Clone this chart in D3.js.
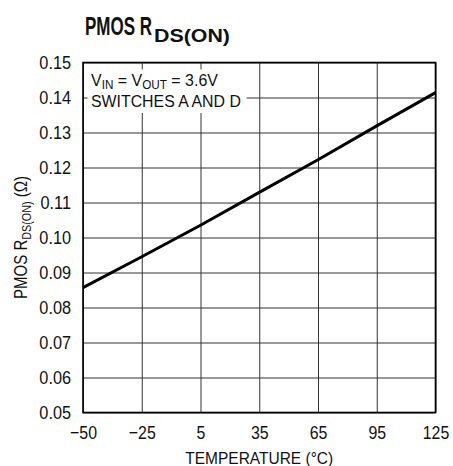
<!DOCTYPE html>
<html><head><meta charset="utf-8">
<script src="https://cdn.jsdelivr.net/npm/d3@7"></script>
<style>
body{margin:0;background:#fff}
text{font-family:"Liberation Sans",Arial,sans-serif;fill:#111}
</style>
</head><body><svg id="c" width="453" height="466"></svg>
<script>
const temps = [-55, -25, 5, 35, 65, 95, 125];
const rdson = [0.0857, 0.0945, 0.1035, 0.1129, 0.1222, 0.1319, 0.1414];
const xTickValues = [-55, -25, 5, 35, 65, 95, 125];
const xTickLabels = ["\u221250", "\u221225", "5", "35", "65", "95", "125"];
const yTickValues = [0.05, 0.06, 0.07, 0.08, 0.09, 0.10, 0.11, 0.12, 0.13, 0.14, 0.15];
const yTickLabels = ["0.05", "0.06", "0.07", "0.08", "0.09", "0.10", "0.11", "0.12", "0.13", "0.14", "0.15"];

const L = 83, R = 435.5, T = 62.5, B = 412.5;
const svg = d3.select("#c");
const x = d3.scaleLinear().domain([-55, 125]).range([L, R]);
const y = d3.scaleLinear().domain([0.05, 0.15]).range([B, T]);

// horizontal squeeze around the text anchor (condensed look)
function squeeze(sel, sx) {
  sel.each(function () {
    const t = d3.select(this);
    const tx = +t.attr("x") || 0, ty = +t.attr("y") || 0;
    const prev = t.attr("transform") || "";
    t.attr("transform", `${prev} translate(${tx},${ty}) scale(${sx},1)`).attr("x", 0).attr("y", 0);
  });
}
function fit(sel, target) {
  const w = sel.node().getComputedTextLength();
  squeeze(sel, target / w);
}

// grid via axes
const gx = svg.append("g").attr("transform", `translate(0,${B})`)
  .call(d3.axisBottom(x).tickValues(xTickValues).tickSize(-(B - T)).tickPadding(13)
    .tickFormat((d, i) => xTickLabels[i]));
gx.attr("font-family", null).attr("font-size", null);
gx.select(".domain").remove();
gx.selectAll("line").attr("stroke", "#333").attr("stroke-width", 1);
gx.selectAll("text").attr("font-size", 18.5).attr("dy", "0.71em").attr("fill", "#111");
squeeze(gx.selectAll("text"), 0.86);

const gy = svg.append("g").attr("transform", `translate(${L},0)`)
  .call(d3.axisLeft(y).tickValues(yTickValues).tickSize(-(R - L)).tickPadding(12)
    .tickFormat((d, i) => yTickLabels[i]));
gy.attr("font-family", null).attr("font-size", null);
gy.select(".domain").remove();
gy.selectAll("line").attr("stroke", "#333").attr("stroke-width", 1);
gy.selectAll("text").attr("font-size", 18.5).attr("fill", "#111");
squeeze(gy.selectAll("text"), 0.88);

// annotation background
svg.append("rect").attr("x", 87.5).attr("y", 69.5).attr("width", 159).attr("height", 43.5).attr("fill", "#fff");

// border
svg.append("rect").attr("x", L).attr("y", T).attr("width", R - L).attr("height", B - T)
  .attr("fill", "none").attr("stroke", "#000").attr("stroke-width", 1.6);

// data line
const line = d3.line().x((d, i) => x(temps[i])).y(d => y(d));
svg.append("path").datum(rdson).attr("d", line).attr("fill", "none")
  .attr("stroke", "#000").attr("stroke-width", 3);

// annotation text
const a1 = svg.append("text").attr("x", 91).attr("y", 85.7).attr("font-size", 17);
a1.append("tspan").text("V");
a1.append("tspan").attr("font-size", 12.5).attr("dy", 3.5).text("IN");
a1.append("tspan").attr("dy", -3.5).text(" = V");
a1.append("tspan").attr("font-size", 12.5).attr("dy", 3.5).text("OUT");
a1.append("tspan").attr("dy", -3.5).text(" = 3.6V");
fit(a1, 127);
const a2 = svg.append("text").attr("x", 91).attr("y", 106.7).attr("font-size", 17).text("SWITCHES A AND D");
fit(a2, 150);

// title
const t1 = svg.append("text").attr("x", 85).attr("y", 35).attr("font-size", 25)
  .attr("font-weight", "bold").text("PMOS R");
fit(t1, 67);
const t2 = svg.append("text").attr("x", 154).attr("y", 41.5).attr("font-size", 18.5)
  .attr("font-weight", "bold").text("DS(ON)");
fit(t2, 76);

// y axis title
const yt = svg.append("text").attr("transform", `translate(27,${(T + B) / 2}) rotate(-90)`)
  .attr("text-anchor", "middle").attr("font-size", 17.5);
yt.append("tspan").text("PMOS R");
yt.append("tspan").attr("font-size", 12.5).attr("dy", 3.5).text("DS(ON)");
yt.append("tspan").attr("dy", -3.5).text(" (\u03A9)");
fit(yt, 123);

// x axis title
const xt = svg.append("text").attr("x", (L + R) / 2).attr("y", 463.5).attr("text-anchor", "middle")
  .attr("font-size", 17).text("TEMPERATURE (\u00B0C)");
fit(xt, 148);
</script></body></html>
